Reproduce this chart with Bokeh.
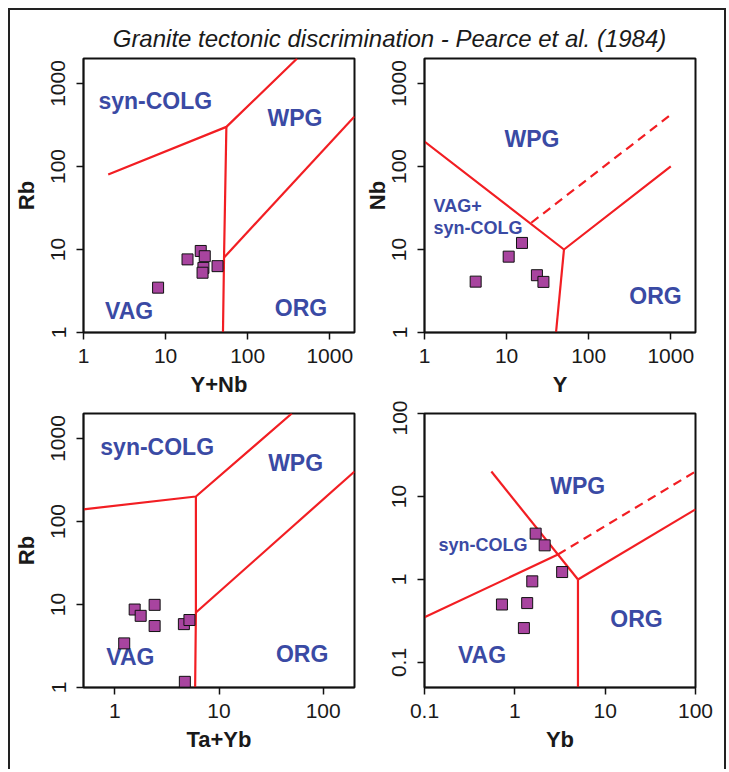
from bokeh.plotting import figure
from bokeh.layouts import column, row
from bokeh.models import FixedTicker, BasicTickFormatter, Range1d, ColumnDataSource
from bokeh.core.properties import value
from bokeh.embed import file_html
from bokeh.resources import INLINE

FONT = "Liberation Sans"
RED = "#F21E23"
BLUE = "#3A4AA4"
MARK = "#A8449F"

TITLE = "Granite tectonic discrimination - Pearce et al. (1984)"

# ---------------- Panel 1 : Rb vs Y+Nb ----------------
p1_xlabel, p1_ylabel = "Y+Nb", "Rb"
p1_xrange, p1_yrange = (1, 2000), (1, 2000)
p1_xticks = [1, 10, 100, 1000]
p1_yticks = [1, 10, 100, 1000]
p1_x = [8.1, 18.5, 26.8, 30.0, 28.9, 28.2, 42.9]
p1_y = [3.47, 7.6, 9.6, 8.3, 6.0, 5.25, 6.3]
p1_line_a_x, p1_line_a_y = [2, 55, 400], [80, 300, 2000]
p1_line_b_x, p1_line_b_y = [55, 51.5, 50], [300, 8, 1]
p1_line_c_x, p1_line_c_y = [51.5, 2000], [8, 400]
p1_lab_text = ["syn-COLG", "WPG", "VAG", "ORG"]
p1_lab_x = [7.5, 377, 3.6, 446]
p1_lab_y = [610, 381, 1.84, 2.0]

# ---------------- Panel 2 : Nb vs Y ----------------
p2_xlabel, p2_ylabel = "Y", "Nb"
p2_xrange, p2_yrange = (1, 2000), (1, 2000)
p2_xticks = [1, 10, 100, 1000]
p2_yticks = [1, 10, 100, 1000]
p2_x = [4.2, 10.6, 15.4, 23.4, 28.1]
p2_y = [4.1, 8.2, 12.0, 4.9, 4.07]
p2_line_a_x, p2_line_a_y = [1, 50, 1000], [200, 10, 100]
p2_line_b_x, p2_line_b_y = [50, 40], [10, 1]
p2_dash_x, p2_dash_y = [20, 1000], [21, 420]
p2_lab_text = ["WPG", "ORG"]
p2_lab_x = [20.4, 651]
p2_lab_y = [213, 2.78]
p2_small_text = ["VAG+", "syn-COLG"]
p2_small_x = [1.29, 1.29]
p2_small_y = [33.5, 18.4]

# ---------------- Panel 3 : Rb vs Ta+Yb ----------------
p3_xlabel, p3_ylabel = "Ta+Yb", "Rb"
p3_xrange, p3_yrange = (0.5, 200), (1, 2000)
p3_xticks = [1, 10, 100]
p3_yticks = [1, 10, 100, 1000]
p3_x = [1.23, 1.55, 1.77, 2.41, 2.41, 4.6, 5.2, 4.7]
p3_y = [3.4, 8.7, 7.3, 9.9, 5.5, 5.8, 6.5, 1.17]
p3_line_a_x, p3_line_a_y = [0.5, 6, 50], [140, 200, 2000]
p3_line_b_x, p3_line_b_y = [6, 6, 5.9], [200, 8, 1]
p3_line_c_x, p3_line_c_y = [6, 200], [8, 400]
p3_lab_text = ["syn-COLG", "WPG", "VAG", "ORG"]
p3_lab_x = [2.55, 54.4, 1.41, 62.8]
p3_lab_y = [785, 504, 2.32, 2.55]

# ---------------- Panel 4 : Ta vs Yb ----------------
p4_xlabel, p4_ylabel = "Yb", ""
p4_xrange, p4_yrange = (0.1, 100), (0.05, 100)
p4_xticks = [0.1, 1, 10, 100]
p4_yticks = [0.1, 1, 10, 100]
p4_x = [1.70, 2.14, 3.34, 1.56, 0.72, 1.37, 1.26]
p4_y = [3.57, 2.58, 1.23, 0.95, 0.50, 0.52, 0.26]
p4_line_a_x, p4_line_a_y = [0.55, 5], [20, 1]
p4_line_b_x, p4_line_b_y = [5, 5], [1, 0.05]
p4_line_c_x, p4_line_c_y = [5, 100], [1, 7]
p4_line_d_x, p4_line_d_y = [0.1, 3], [0.35, 2]
p4_dash_x, p4_dash_y = [3, 100], [2, 20]
p4_lab_text = ["WPG", "ORG", "VAG"]
p4_lab_x = [4.96, 22.2, 0.433]
p4_lab_y = [13.2, 0.336, 0.122]
p4_small_text = ["syn-COLG"]
p4_small_x = [0.445]
p4_small_y = [2.57]


def make_fig(xr, yr, xticks, yticks, xlabel, ylabel, mbl, mbr, mbt, mbb, ylab_standoff):
    p = figure(frame_width=271, frame_height=274, x_axis_type="log", y_axis_type="log",
               x_range=Range1d(*xr), y_range=Range1d(*yr),
               toolbar_location=None, output_backend="svg",
               min_border_left=mbl, min_border_right=mbr,
               min_border_top=mbt, min_border_bottom=mbb)
    p.xgrid.visible = False
    p.ygrid.visible = False
    p.outline_line_color = "#111111"
    p.outline_line_width = 2
    p.background_fill_color = "white"
    p.border_fill_color = "white"
    for ax, ticks, lab in ((p.xaxis[0], xticks, xlabel), (p.yaxis[0], yticks, ylabel)):
        ax.ticker = FixedTicker(ticks=ticks)
        ax.formatter = BasicTickFormatter(use_scientific=False)
        ax.minor_tick_line_color = None
        ax.major_tick_out = 7
        ax.major_tick_in = 0
        ax.major_tick_line_width = 1.5
        ax.major_tick_line_color = "#111111"
        ax.axis_line_width = 1.5
        ax.axis_line_color = "#111111"
        ax.axis_label = lab if lab else None
        ax.axis_label_text_font = FONT
        ax.axis_label_text_font_size = "22px"
        ax.axis_label_text_font_style = "bold"
        ax.axis_label_text_color = "#1a1a1a"
        ax.major_label_text_font = FONT
        ax.major_label_text_font_size = "21px"
        ax.major_label_text_color = "#1a1a1a"
    p.xaxis.major_label_standoff = 9
    p.xaxis.axis_label_standoff = 6
    p.yaxis.major_label_standoff = 11
    p.yaxis.axis_label_standoff = ylab_standoff
    p.yaxis.major_label_orientation = "vertical"
    return p


def add_line(p, xs, ys, dash="solid"):
    p.line(xs, ys, line_color=RED, line_width=2.2, line_dash=dash)


def add_points(p, xs, ys):
    p.scatter(xs, ys, marker="square", size=11, fill_color=MARK,
              line_color="#111111", line_width=1)


def add_labels(p, xs, ys, texts, size="23px", align="center"):
    src = ColumnDataSource(dict(x=xs, y=ys, t=texts))
    p.text(x="x", y="y", text="t", source=src, text_font=value(FONT),
           text_font_size=size, text_font_style="bold", text_color=BLUE,
           text_align=align, text_baseline="middle")


# top-left
p1 = make_fig(p1_xrange, p1_yrange, p1_xticks, p1_yticks, p1_xlabel, p1_ylabel, 73, 6, 2, 68, 10)
add_line(p1, p1_line_a_x, p1_line_a_y)
add_line(p1, p1_line_b_x, p1_line_b_y)
add_line(p1, p1_line_c_x, p1_line_c_y)
add_labels(p1, p1_lab_x, p1_lab_y, p1_lab_text)
add_points(p1, p1_x, p1_y)

# top-right
p2 = make_fig(p2_xrange, p2_yrange, p2_xticks, p2_yticks, p2_xlabel, p2_ylabel, 64, 29, 2, 68, 0)
add_line(p2, p2_line_a_x, p2_line_a_y)
add_line(p2, p2_line_b_x, p2_line_b_y)
add_line(p2, p2_dash_x, p2_dash_y, dash="9 6")
add_labels(p2, p2_lab_x, p2_lab_y, p2_lab_text)
add_labels(p2, p2_small_x, p2_small_y, p2_small_text, size="18px", align="left")
add_points(p2, p2_x, p2_y)

# bottom-left
p3 = make_fig(p3_xrange, p3_yrange, p3_xticks, p3_yticks, p3_xlabel, p3_ylabel, 73, 6, 13, 82, 10)
add_line(p3, p3_line_a_x, p3_line_a_y)
add_line(p3, p3_line_b_x, p3_line_b_y)
add_line(p3, p3_line_c_x, p3_line_c_y)
add_labels(p3, p3_lab_x, p3_lab_y, p3_lab_text)
add_points(p3, p3_x, p3_y)

# bottom-right
p4 = make_fig(p4_xrange, p4_yrange, p4_xticks, p4_yticks, p4_xlabel, p4_ylabel, 64, 29, 13, 82, 0)
add_line(p4, p4_line_a_x, p4_line_a_y)
add_line(p4, p4_line_b_x, p4_line_b_y)
add_line(p4, p4_line_c_x, p4_line_c_y)
add_line(p4, p4_line_d_x, p4_line_d_y)
add_line(p4, p4_dash_x, p4_dash_y, dash="9 6")
add_labels(p4, p4_lab_x, p4_lab_y, p4_lab_text)
add_labels(p4, p4_small_x, p4_small_y, p4_small_text, size="18px", align="center")
add_points(p4, p4_x, p4_y)

# title strip
pt = figure(frame_width=714, frame_height=46, x_range=Range1d(0, 714), y_range=Range1d(0, 46),
            toolbar_location=None, output_backend="svg", x_axis_location=None,
            y_axis_location=None, min_border=0)
pt.xgrid.visible = False
pt.ygrid.visible = False
pt.outline_line_color = None
pt.text(x=[379], y=[17.7], text=[TITLE], text_font=value(FONT), text_font_size="24px",
        text_font_style="italic", text_color="#1a1a1a", text_align="center",
        text_baseline="alphabetic")

layout = column(pt, row(p1, p2), row(p3, p4),
                styles={"border-top": "2px solid #222", "border-left": "2px solid #222",
                        "border-right": "2px solid #222", "border-bottom": "none",
                        "margin-left": "8px", "margin-top": "8px", "background": "white"})

open("out.html", "w").write(file_html(layout, INLINE))
